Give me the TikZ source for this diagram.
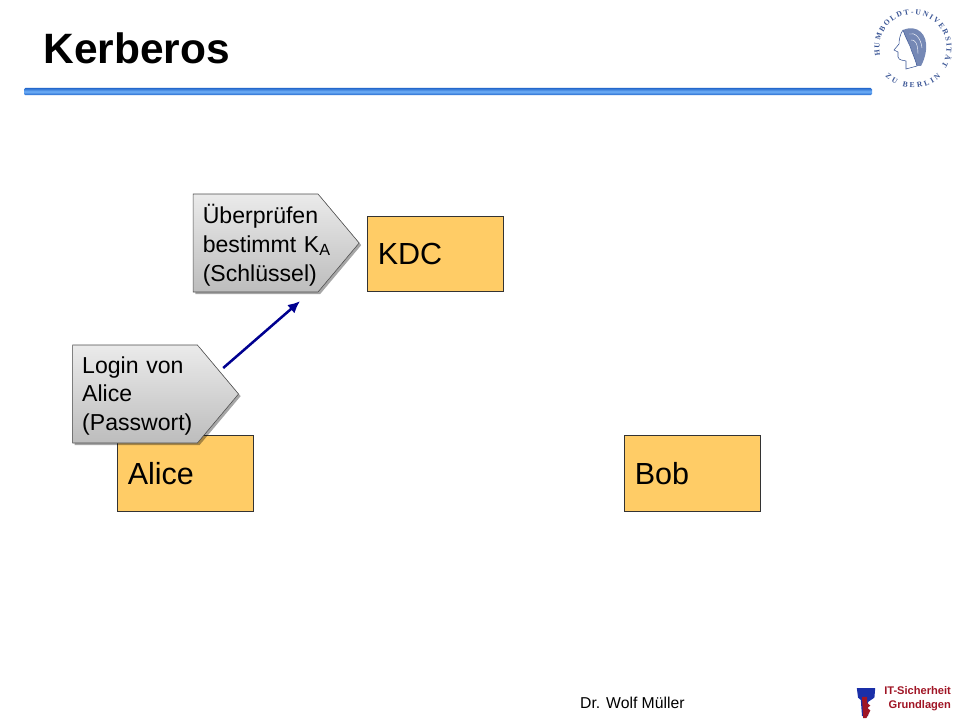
\documentclass[tikz,border=0pt]{standalone}
\usepackage{fontspec}
\setmainfont{Liberation Sans}
\newfontfamily\sealfont{Liberation Serif}
\usepackage{xcolor}
\usetikzlibrary{shapes,arrows,positioning,calc,shadows,decorations.text,arrows.meta}

\definecolor{partyfill}{HTML}{FFCC66}
\definecolor{arrowblue}{HTML}{000090}
\definecolor{rulemid}{HTML}{6FB0F8}
\definecolor{ruleedge}{HTML}{2468CC}
\definecolor{sealblue}{HTML}{3A5595}
\definecolor{keyred}{HTML}{A01525}
\definecolor{keyblue}{HTML}{1A2FA8}

\tikzset{
    party/.style={draw=black!80, line width=0.5pt, fill=partyfill, minimum width=3.4cm, minimum height=1.88cm,
        inner xsep=0.27cm, inner ysep=0pt, text width=2.86cm, align=left, font=\fontsize{21.7}{25}\selectfont,
        execute at end node=\vspace{-0.07cm}},
    remark/.style={signal, signal to=east, signal pointer angle=100, draw=black!70, line width=0.4pt,
        top color=white!92!black, bottom color=black!26, inner xsep=0.24cm, inner ysep=0pt, minimum height=2.45cm, text width=2.64cm,
        align=left, font=\fontsize{16.4}{20.6}\selectfont, execute at end node=\vspace{-0.1cm},
        drop shadow={shadow xshift=1.5pt, shadow yshift=-1.5pt, fill=black, opacity=0.35}},
    sealtext/.style={decorate, decoration={text along path, text align={fit to path}, text={#1}}},
}

\begin{document}
\begin{tikzpicture}
    \useasboundingbox (0,0) rectangle (24,18);

    % Title and rule
    \node[anchor=base west, inner sep=0pt, font=\fontsize{30.2}{36}\bfseries\selectfont] (title) at (1.08,16.42) {Kerberos};
    \shade[top color=ruleedge, bottom color=ruleedge, middle color=rulemid, rounded corners=1pt] (0.6,15.62) rectangle (21.8,15.8);

    % Parties
    \node[party] (kdc) at (10.875,11.65) {KDC};
    \node[party] (alice) at (4.625,6.165) {Alice};
    \node[party] (bob) at (17.3,6.165) {Bob};

    % Remarks
    \node[remark] (check) at (6.39,11.925) {Überprüfen\\\mbox{bestimmt K\textsubscript{A}}\\\mbox{(Schlüssel)}};
    \node[remark] (login) at (3.375,8.15) {Login von\\Alice\\\mbox{(Passwort)}};

    % Arrow between the remarks
    \coordinate (loginout) at (5.58,8.8);
    \coordinate (checkin) at (7.5,10.47);
    \draw[-{Latex[length=0.3cm,width=0.28cm]}, draw=arrowblue, line width=1.8pt] (loginout) -- (checkin);

    % Seal
    \path[sealtext={|\sealfont\bfseries\fontsize{5.4}{7}\selectfont\color{sealblue}|HUMBOLDT-UNIVERSITÄT}] (22.825,16.8) ++(193:0.84) arc (193:-32:0.84);
    \path[sealtext={|\sealfont\bfseries\fontsize{5.4}{7}\selectfont\color{sealblue}|ZU BERLIN}] (22.825,16.8) ++(226:1.0) arc (226:314:1.0);
    \begin{scope}[shift={(22.825,16.8)}, x=0.025cm, y=0.025cm]
        \fill[sealblue!70] (-10,18) .. controls (4,24) and (15,14) .. (13,-2) .. controls (12,-10) and (10,-14) .. (8,-18)
            -- (3,-18) .. controls (2,-10) and (-1,-5) .. (-3,2) .. controls (-5,6) and (-8,12) .. (-10,18);
        \draw[sealblue, line width=0.4pt, fill=white] (-10,18) .. controls (-13,14) and (-14,8) .. (-14,4) -- (-19,-2) -- (-15,-4)
            -- (-15,-9) .. controls (-14,-13) and (-9,-12) .. (-7,-13) -- (-7,-21) -- (4,-18) .. controls (2,-10) and (-1,-5) .. (-3,2) .. controls (-5,6) and (-8,12) .. (-10,18);
        \draw[white, line width=0.3pt] (-4,14) .. controls (2,16) and (8,10) .. (9,0);
        \draw[white, line width=0.3pt] (-2,8) .. controls (2,9) and (5,4) .. (5,-6);
    \end{scope}

    % Footer
    \node[anchor=base, inner sep=0pt, font=\fontsize{11.2}{13}\selectfont] (lecturer) at (15.81,0.29) {Dr. Wolf Müller};
    \node[anchor=base east, inner sep=0pt, align=right, text=keyred, font=\fontsize{7.9}{9.4}\bfseries\selectfont] (course) at (23.78,0.3) {IT-Sicherheit\\Grundlagen};

    % Key
    \fill[keyblue] (21.42,0.8) -- (21.88,0.8) -- (21.86,0.56) -- (21.7,0.45) -- (21.7,0.1) -- (21.55,0.1) -- (21.52,0.5) -- (21.45,0.56) -- cycle;
    \fill[keyred] (21.55,0.58) -- (21.68,0.58) -- (21.68,0.42) -- (21.76,0.36) -- (21.68,0.3) -- (21.76,0.24) -- (21.66,0.05) -- (21.58,0.05) -- cycle;
\end{tikzpicture}
\end{document}
